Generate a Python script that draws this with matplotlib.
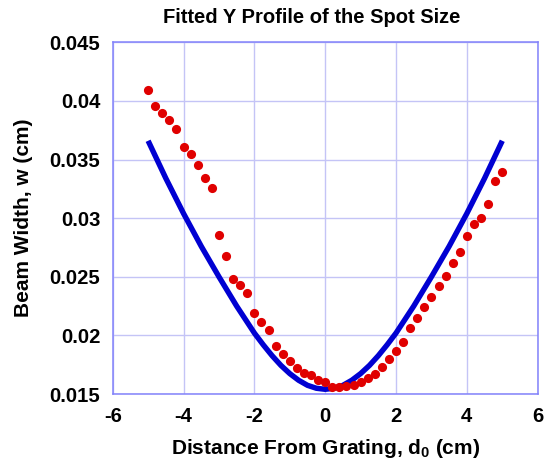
import matplotlib
matplotlib.use("Agg")
import matplotlib.pyplot as plt

plt.rcParams['font.family'] = ['Liberation Sans', 'DejaVu Sans']
plt.rcParams['font.weight'] = 'bold'
plt.rcParams['mathtext.fontset'] = 'custom'
plt.rcParams['mathtext.rm'] = 'Liberation Sans:bold'
plt.rcParams['mathtext.it'] = 'Liberation Sans:bold'
plt.rcParams['mathtext.bf'] = 'Liberation Sans:bold'

# Measured beam width at each distance from the grating
distance = [-5.0, -4.8, -4.6, -4.4, -4.2, -4.0, -3.8, -3.6, -3.4, -3.2,
            -3.0, -2.8, -2.6, -2.4, -2.2, -2.0, -1.8, -1.6, -1.4, -1.2,
            -1.0, -0.8, -0.6, -0.4, -0.2, 0.0, 0.2, 0.4, 0.6, 0.8,
            1.0, 1.2, 1.4, 1.6, 1.8, 2.0, 2.2, 2.4, 2.6, 2.8,
            3.0, 3.2, 3.4, 3.6, 3.8, 4.0, 4.2, 4.4, 4.6, 4.8, 5.0]
width = [0.0409, 0.0396, 0.0390, 0.0384, 0.0376, 0.0361, 0.0355, 0.0345, 0.0334, 0.0326,
         0.0286, 0.0268, 0.0248, 0.0243, 0.0236, 0.0219, 0.0211, 0.0205, 0.0191, 0.0184,
         0.0178, 0.0172, 0.0168, 0.0166, 0.0162, 0.0160, 0.0156, 0.0156, 0.0157, 0.0158,
         0.0160, 0.0164, 0.0167, 0.0173, 0.0180, 0.0187, 0.0194, 0.0206, 0.0215, 0.0224,
         0.0233, 0.0242, 0.0251, 0.0262, 0.0271, 0.0285, 0.0295, 0.0300, 0.0312, 0.0332, 0.0339]

# Fitted profile, tabulated
fit_distance = [-5.0, -4.5, -4.0, -3.5, -3.0, -2.5, -2.0, -1.75, -1.5, -1.25, -1.0,
                -0.75, -0.5, -0.25, 0.0, 0.25, 0.5, 0.75, 1.0, 1.25, 1.5, 1.75,
                2.0, 2.5, 3.0, 3.5, 4.0, 4.5, 5.0]
fit_width = [0.0366, 0.0334, 0.0304, 0.0276, 0.0250, 0.0225, 0.0202, 0.0192, 0.01827, 0.01744, 0.01674,
             0.01617, 0.01574, 0.01549, 0.0154, 0.01549, 0.01574, 0.01617, 0.01674, 0.01744, 0.01827, 0.0192,
             0.0202, 0.0225, 0.0250, 0.0276, 0.0304, 0.0334, 0.0366]

x_ticks = [-6, -4, -2, 0, 2, 4, 6]
y_ticks = [0.015, 0.02, 0.025, 0.03, 0.035, 0.04, 0.045]
y_tick_labels = ['0.015', '0.02', '0.025', '0.03', '0.035', '0.04', '0.045']

frame_color = '#8282fa'
grid_color = '#c4c4f6'

fig = plt.figure(figsize=(5.46, 4.66), dpi=100)
ax = fig.add_axes([112.7 / 546, 1 - 394 / 466, (537.7 - 112.7) / 546, (394 - 42.3) / 466])

ax.plot(fit_distance, fit_width, color='#0000d2', lw=3.9, solid_capstyle='butt', zorder=3)
ax.plot(distance, width, 'o', color='#e00000', ms=6.6, mec='none', zorder=4)

ax.set_xlim(-6, 6)
ax.set_ylim(0.015, 0.045)
ax.set_xticks(x_ticks)
ax.set_xticklabels([str(t) for t in x_ticks])
ax.set_yticks(y_ticks)
ax.set_yticklabels(y_tick_labels)

ax.grid(True, color=grid_color, lw=1.0)
ax.set_axisbelow(True)
for s in ax.spines.values():
    s.set_color(frame_color)
    s.set_linewidth(1.1)
ax.tick_params(direction='in', length=0, labelsize=14.6, pad=9)
for lab in ax.get_xticklabels() + ax.get_yticklabels():
    lab.set_fontweight('bold')

ax.set_xlabel(r'Distance From Grating, d$_{\mathregular{0}}$ (cm)', fontsize=15, fontweight='bold', labelpad=8)
ax.set_ylabel('Beam Width, w (cm)', fontsize=15, fontweight='bold', labelpad=12)
fig.text(311.7 / 546, 1 - 17.5 / 466, 'Fitted Y Profile of the Spot Size',
         ha='center', va='center', fontsize=14.5, fontweight='bold')

fig.savefig('out.png', dpi=100)
